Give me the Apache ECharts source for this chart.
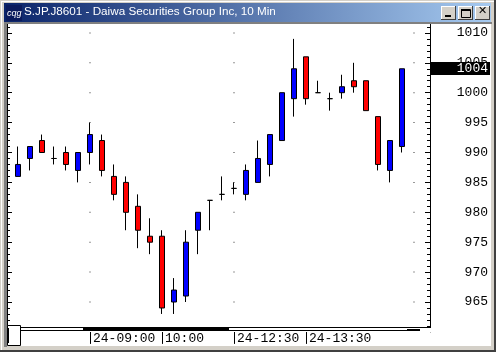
<!DOCTYPE html>
<html>
<head>
<meta charset="utf-8">
<style>html,body{margin:0;padding:0;background:#fff}#main{width:496px;height:352px}</style>
<script src="https://cdn.jsdelivr.net/npm/echarts@6/dist/echarts.min.js"></script>
</head>
<body>
<div id="main"></div>
<script>
var chartTitle = 'S.JP.J8601 - Daiwa Securities Group Inc, 10 Min';
// 10 minute bars, last category is empty
var categories = ['14:00','14:10','14:20','14:30','14:40','14:50',
	'24-09:00','09:10','09:20','09:30','09:40','09:50',
	'10:00','10:10','10:20','10:30','10:40','10:50',
	'24-12:30','12:40','12:50','13:00','13:10','13:20',
	'24-13:30','13:40','13:50','14:00','14:10','14:20','14:30','14:40','14:50','15:00'];
var opens  = [986,989,992,989,990,987,990,992,986,985,981,976,976,965,966,977,982,983,984,983,985,988,992,999,1006,1000,999,1000,1002,1002,996,987,991];
var closes = [988,991,990,989,988,990,993,987,983,980,977,975,964,967,975,980,982,983,984,987,989,993,1000,1004,999,1000,999,1001,1001,997,988,992,1004];
var lows   = [986,987,990,988,987,985,988,986,982,977,974,973,963,963,965,973,977,982,983,982,985,986,992,996,998,1000,997,999,1000,997,987,985,990];
var highs  = [991,991,993,991,991,990,995,993,988,986,983,979,977,969,977,980,982,986,985,988,992,993,1000,1009,1006,1002,1000,1003,1005,1002,996,992,1004];
var priceLabels = [965,970,975,980,985,990,995,1000,1005,1010];
var labelIndexes = [6,12,18,24];
var dotIndexes = [6,18,33];
var lastPrice = 1004;

var candleData = [];
for (var i = 0; i < opens.length; i++) {
	candleData.push([opens[i], closes[i], lows[i], highs[i]]);
}
var dotData = [];
dotIndexes.forEach(function (idx) {
	priceLabels.forEach(function (p) {
		dotData.push([idx, p]);
	});
});

var labelFont = '"Liberation Mono", monospace';
var myChart = echarts.init(document.getElementById('main'), null, {renderer: 'canvas'});

function tickAxis(pos, offset, showLabel) {
	return {
		type: 'value',
		position: pos,
		offset: offset,
		min: 960,
		max: 1015,
		interval: 5,
		splitLine: {show: false},
		axisLine: {show: true, lineStyle: {color: '#000', width: 1}},
		axisTick: {show: true, inside: true, length: 5, customValues: priceLabels, lineStyle: {color: '#000'}},
		minorTick: {show: true, splitNumber: 5, length: 3, lineStyle: {color: '#000'}},
		axisLabel: {
			show: showLabel,
			customValues: priceLabels,
			formatter: function (v) { return String(v); },
			align: 'right',
			margin: 58,
			color: '#000',
			fontFamily: labelFont,
			fontSize: 13
		}
	};
}

function rect(x, y, w, h, fill, z) {
	return {type: 'rect', z: z || 100, silent: true, shape: {x: x, y: y, width: w, height: h}, style: {fill: fill}};
}
function box(x, y, w, h, fill, stroke) {
	return {type: 'rect', z: 102, silent: true, shape: {x: x + 0.5, y: y + 0.5, width: w, height: h}, style: {fill: fill, stroke: stroke, lineWidth: 1}};
}
function btn(x, glyph) {
	return [rect(x, 6, 15, 14, '#404040', 101), rect(x, 6, 14, 13, '#fff', 101), rect(x + 1, 7, 13, 12, '#d4d0c8', 101)].concat(glyph);
}

var chrome = [
	// window frame
	rect(0, 0, 496, 3, '#d4d0c8'),
	rect(0, 0, 4, 352, '#d4d0c8'),
	rect(491, 0, 5, 352, '#d4d0c8'),
	rect(0, 346, 496, 6, '#d4d0c8'),
	rect(1, 1, 493, 1, '#fff', 101),
	rect(1, 1, 1, 349, '#fff', 101),
	rect(0, 350, 496, 2, '#404040', 101),
	rect(494, 0, 2, 352, '#404040', 101),
	rect(4, 22, 488, 2, '#808080', 101),
	rect(4, 24, 3, 323, '#808080', 101),
	{
		type: 'rect', z: 101, silent: true,
		shape: {x: 4, y: 3, width: 487, height: 19},
		style: {fill: new echarts.graphic.LinearGradient(0, 0, 1, 0, [{offset: 0, color: '#0a246a'}, {offset: 1, color: '#a6caf0'}])}
	},
	rect(6, 5, 16, 16, '#0a1a5c', 102),
	{type: 'text', z: 103, silent: true, style: {x: 7, y: 9, text: 'cqg', fill: '#fff', font: 'italic 9px "Liberation Sans"'}},
	{type: 'text', z: 103, silent: true, style: {x: 24, y: 6, text: chartTitle, fill: '#fff', font: '11.7px "Liberation Sans"'}},
	// bottom strip under the plot
	rect(4, 328, 487, 4, '#fff'),
	rect(7, 327, 423, 1, '#000', 101),
	rect(20, 330, 387, 1, '#000', 101),
	rect(83, 327, 146, 4, '#000', 101),
	rect(407, 329, 13, 2, '#000', 101),
	box(7, 325, 13, 20, '#fff', '#000'),
	rect(8, 328, 1, 15, '#000', 103)
];
chrome = chrome.concat(btn(441, [rect(445, 15, 6, 2, '#000', 103)]));
chrome = chrome.concat(btn(458, [box(461, 9, 9, 8, 'transparent', '#000'), rect(461, 9, 9, 2, '#000', 103)]));
chrome = chrome.concat(btn(475, [{type: 'text', z: 103, silent: true, style: {x: 478, y: 6, text: '✕', fill: '#000', font: 'bold 11px "DejaVu Sans"'}}]));

var option = {
	animation: false,
	backgroundColor: '#fff',
	grid: {left: 12, top: 3, width: 408, height: 328.9},
	xAxis: {
		type: 'category',
		data: categories,
		boundaryGap: true,
		axisLine: {show: false},
		axisTick: {
			show: true, alignWithLabel: true, length: 12,
			interval: function (idx) { return labelIndexes.indexOf(idx) >= 0; },
			lineStyle: {color: '#000'}
		},
		axisLabel: {
			interval: function (idx) { return labelIndexes.indexOf(idx) >= 0; },
			align: 'left',
			padding: [0, 0, 0, 3],
			margin: 0,
			color: '#000',
			fontFamily: labelFont,
			fontSize: 13
		},
		splitLine: {show: false}
	},
	yAxis: [tickAxis('right', 10, true), tickAxis('left', 5, false)],
	series: [
		{
			type: 'scatter',
			data: dotData,
			symbol: 'rect',
			symbolSize: 1,
			itemStyle: {color: '#000'},
			silent: true
		},
		{
			type: 'candlestick',
			data: candleData,
			barWidth: 6,
			itemStyle: {
				color: '#0000ff',
				color0: '#ff0000',
				borderColor: '#000',
				borderColor0: '#000',
				borderColorDoji: '#000',
				borderWidth: 1
			}
		}
	],
	graphic: chrome
};
myChart.setOption(option);

// current price flag on the price scale
var lastY = myChart.convertToPixel({yAxisIndex: 0}, lastPrice);
myChart.setOption({
	graphic: chrome.concat([
		rect(430, Math.round(lastY) - 7, 60, 13, '#000', 104),
		{type: 'text', z: 105, silent: true, style: {x: 488, y: Math.round(lastY) - 7, text: String(lastPrice), fill: '#fff', align: 'right', font: '13px ' + labelFont}}
	])
});
</script>
</body>
</html>
